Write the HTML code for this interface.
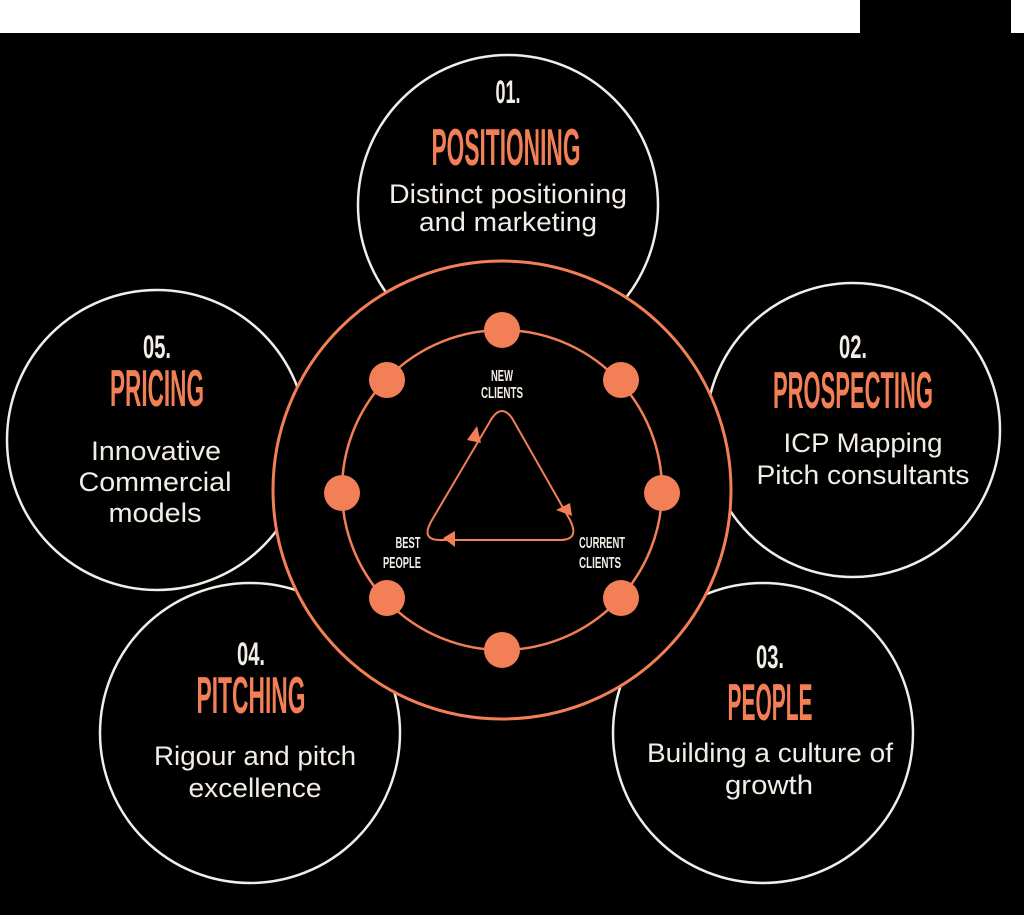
<!DOCTYPE html>
<html><head><meta charset="utf-8"><style>
html,body{margin:0;padding:0;background:#000;}
svg{display:block;}
.n{font-family:"Liberation Sans Narrow","Liberation Sans",sans-serif;fill:#f2ede6;font-size:32px;font-weight:bold;text-anchor:middle;}
.h{font-family:"Liberation Sans Narrow","Liberation Sans",sans-serif;fill:#f37f56;font-size:52px;font-weight:bold;text-anchor:middle;}
.b{font-family:"Liberation Sans",sans-serif;fill:#f2ede6;font-size:27px;text-anchor:middle;}
.s{font-family:"Liberation Sans Narrow","Liberation Sans",sans-serif;fill:#f2ede6;font-size:16px;font-weight:bold;text-anchor:middle;}
</style></head><body>
<svg width="1024" height="915" viewBox="0 0 1024 915" xmlns="http://www.w3.org/2000/svg">
<rect width="1024" height="915" fill="#000"/>
<rect x="0" y="0" width="860" height="33" fill="#fff"/>
<rect x="1011" y="0" width="13" height="33" fill="#fff"/>
<g fill="#000" stroke="#f2ede6" stroke-width="2.5">
<circle cx="508" cy="205" r="150"/>
<circle cx="853" cy="430" r="147"/>
<circle cx="763" cy="733" r="150"/>
<circle cx="250" cy="733" r="150"/>
<circle cx="157" cy="440" r="150"/>
</g>
<circle cx="502" cy="490" r="229" fill="#000" stroke="#f37f56" stroke-width="3"/>
<circle cx="502" cy="490" r="160" fill="none" stroke="#f37f56" stroke-width="2.5"/>
<g fill="#f37f56">
<circle cx="502" cy="330" r="18"/><circle cx="502" cy="650" r="18"/>
<circle cx="342" cy="493" r="18"/><circle cx="662" cy="493" r="18"/>
<circle cx="387" cy="380" r="18"/><circle cx="621" cy="380" r="18"/>
<circle cx="387" cy="598" r="18"/><circle cx="621" cy="598" r="18"/>
</g>
<path d="M492,418 Q502,404 512,418 L570,520 Q580,540 560,540 L440,540 Q420,540 432,520 Z" fill="none" stroke="#f37f56" stroke-width="2"/>
<g fill="#f37f56">
<polygon points="477,426 467,440 481,443"/>
<polygon points="570,503 556,510 572,516"/>
<polygon points="443,538 455,531 455,547"/>
</g>
<text class="s" x="502" y="381" textLength="22" lengthAdjust="spacingAndGlyphs">NEW</text>
<text class="s" x="502" y="398" textLength="42" lengthAdjust="spacingAndGlyphs">CLIENTS</text>
<text class="s" x="408" y="548" textLength="25" lengthAdjust="spacingAndGlyphs">BEST</text>
<text class="s" x="402" y="568" textLength="38" lengthAdjust="spacingAndGlyphs">PEOPLE</text>
<text class="s" x="602" y="548" textLength="46" lengthAdjust="spacingAndGlyphs">CURRENT</text>
<text class="s" x="600" y="568" textLength="42" lengthAdjust="spacingAndGlyphs">CLIENTS</text>

<text class="n" x="508" y="103" textLength="25" lengthAdjust="spacingAndGlyphs">01.</text>
<text class="h" x="506" y="165" textLength="149" lengthAdjust="spacingAndGlyphs">POSITIONING</text>
<text class="b" x="508" y="203" textLength="238" lengthAdjust="spacingAndGlyphs">Distinct positioning</text>
<text class="b" x="508" y="231" textLength="178" lengthAdjust="spacingAndGlyphs">and marketing</text>

<text class="n" x="853" y="358" textLength="28" lengthAdjust="spacingAndGlyphs">02.</text>
<text class="h" x="853" y="408" textLength="160" lengthAdjust="spacingAndGlyphs">PROSPECTING</text>
<text class="b" x="863" y="452" textLength="159" lengthAdjust="spacingAndGlyphs">ICP Mapping</text>
<text class="b" x="863" y="484" textLength="213" lengthAdjust="spacingAndGlyphs">Pitch consultants</text>

<text class="n" x="770" y="668" textLength="28" lengthAdjust="spacingAndGlyphs">03.</text>
<text class="h" x="770" y="720" textLength="85" lengthAdjust="spacingAndGlyphs">PEOPLE</text>
<text class="b" x="770" y="762" textLength="246" lengthAdjust="spacingAndGlyphs">Building a culture of</text>
<text class="b" x="769" y="794" textLength="88" lengthAdjust="spacingAndGlyphs">growth</text>

<text class="n" x="251" y="665" textLength="28" lengthAdjust="spacingAndGlyphs">04.</text>
<text class="h" x="251" y="713" textLength="109" lengthAdjust="spacingAndGlyphs">PITCHING</text>
<text class="b" x="255" y="765" textLength="202" lengthAdjust="spacingAndGlyphs">Rigour and pitch</text>
<text class="b" x="255" y="797" textLength="133" lengthAdjust="spacingAndGlyphs">excellence</text>

<text class="n" x="157" y="358" textLength="28" lengthAdjust="spacingAndGlyphs">05.</text>
<text class="h" x="157" y="406" textLength="94" lengthAdjust="spacingAndGlyphs">PRICING</text>
<text class="b" x="156" y="460" textLength="130" lengthAdjust="spacingAndGlyphs">Innovative</text>
<text class="b" x="155" y="491" textLength="153" lengthAdjust="spacingAndGlyphs">Commercial</text>
<text class="b" x="155" y="522" textLength="93" lengthAdjust="spacingAndGlyphs">models</text>
</svg>
</body></html>
